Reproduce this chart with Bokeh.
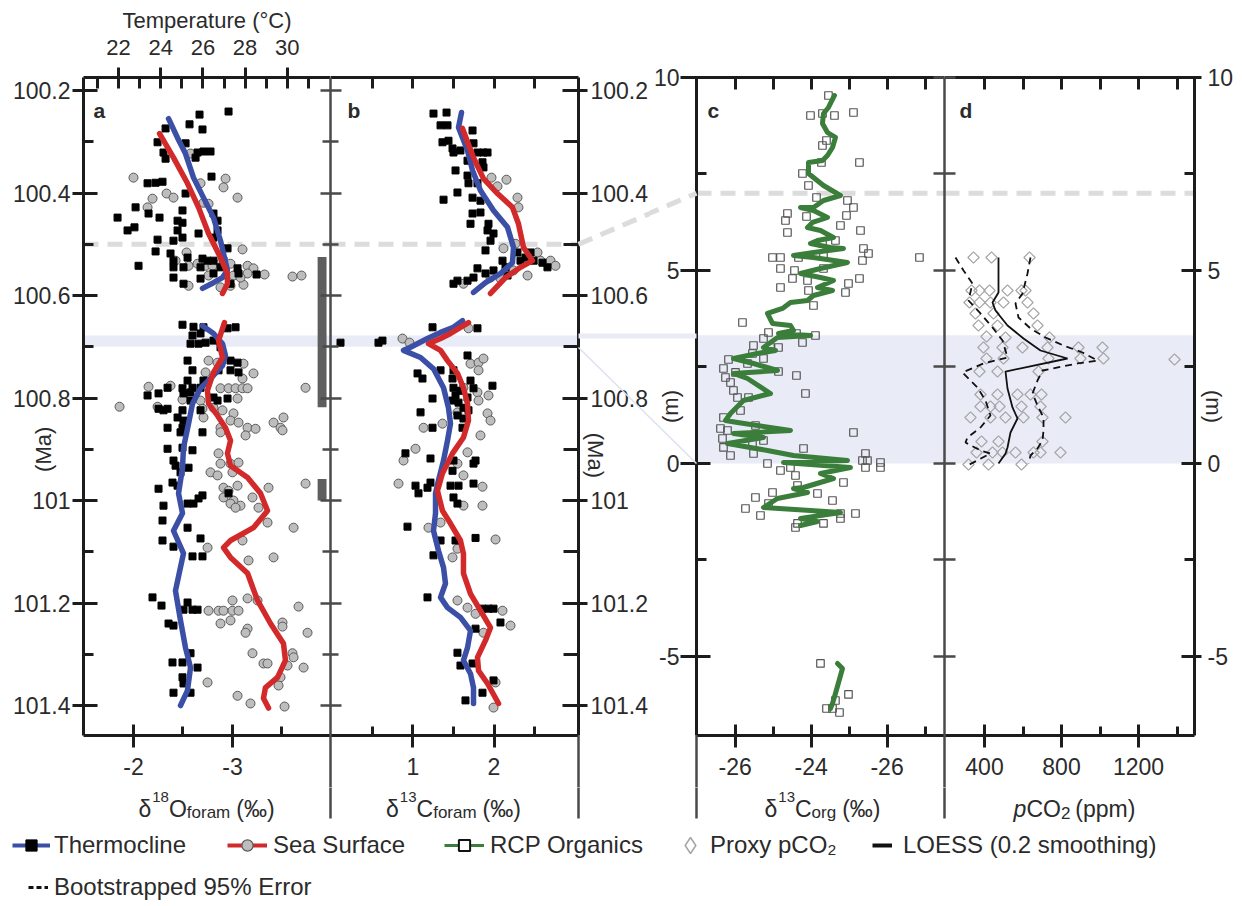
import math
from bokeh.plotting import figure
from bokeh.models import (Range1d, LinearAxis, FixedTicker, Span, BoxAnnotation, Label,
                          Legend, LegendItem)
from bokeh.layouts import row, column
from bokeh.embed import file_html
from bokeh.resources import INLINE

# ---------------------------------------------------------------- data
# panel a : delta18O (permil) vs age (Ma)
THERM_A = [(-2.667,100.247),(-2.960,100.241),(-2.566,100.266),(-2.697,100.276),(-2.324,100.274),(-2.243,100.301),
 (-2.526,100.303),(-2.647,100.321),(-2.707,100.319),(-2.778,100.319),(-2.303,100.321),(-2.324,100.333),(-2.627,100.331),
 (-2.788,100.368),(-2.142,100.381),(-2.223,100.380),(-2.293,100.378),(-2.526,100.401),(-2.495,100.434),(-2.445,100.454),
 (-2.495,100.458),(-2.021,100.428),(-2.152,100.440),(-2.263,100.448),(-1.839,100.448),(-1.940,100.473),(-2.010,100.467),
 (-2.445,100.473),(-2.495,100.487),(-2.404,100.493),(-2.243,100.491),(-2.657,100.479),(-2.808,100.440),(-2.849,100.454),
 (-2.849,100.473),(-2.808,100.487),(-2.950,100.508),(-2.223,100.514),(-2.374,100.518),(-2.404,100.532),(-2.051,100.542),
 (-2.404,100.545),(-2.505,100.545),(-2.546,100.526),(-2.697,100.528),(-2.748,100.532),(-2.808,100.532),(-2.909,100.532),
 (-3.051,100.547),(-2.677,100.545),(-2.677,100.567),(-2.404,100.565),(-2.505,100.577),(-2.980,100.577),(-3.243,100.559),
 (-3.061,100.557),(-2.808,100.557),(-2.879,100.545),
 (-2.495,100.657),(-2.606,100.661),(-2.707,100.662),(-2.950,100.664),(-3.031,100.662),(-2.596,100.678),(-2.677,100.674),
 (-2.576,100.694),(-2.657,100.694),(-2.728,100.692),(-2.808,100.688),(-2.879,100.701),(-2.546,100.727),(-2.980,100.727),
 (-3.051,100.731),(-2.596,100.746),(-2.859,100.746),(-2.980,100.746),(-3.061,100.750),(-2.546,100.766),(-2.707,100.766),
 (-2.344,100.780),(-2.495,100.781),(-2.596,100.780),(-2.677,100.780),(-2.253,100.791),(-2.142,100.795),(-2.505,100.791),
 (-2.576,100.789),(-2.808,100.799),(-2.950,100.801),(-2.849,100.805),(-2.576,100.805),(-2.253,100.821),(-2.303,100.824),
 (-2.344,100.821),(-2.495,100.824),(-2.445,100.838),(-2.677,100.824),(-2.505,100.844),(-2.495,100.858),(-2.344,100.858),
 (-2.475,100.867),(-2.697,100.867),(-2.344,100.899),(-2.495,100.897),(-2.596,100.902),(-2.404,100.922),(-2.425,100.932),
 (-2.475,100.945),(-2.556,100.936),(-2.394,100.965),(-2.445,100.971),(-2.253,100.977),(-2.606,101.006),(-2.657,100.996),
 (-2.697,100.990),(-2.960,100.986),(-2.303,101.010),(-2.546,101.006),(-2.293,101.039),(-2.546,101.053),(-2.293,101.078),
 (-2.677,101.074),(-2.404,101.090),(-2.596,101.109),(-2.697,101.109),(-2.192,101.189),(-2.283,101.205),(-2.546,101.199),
 (-2.505,101.213),(-2.596,101.213),(-2.647,101.213),(-2.354,101.240),(-2.404,101.244),(-2.576,101.298),(-2.394,101.316),
 (-2.495,101.316),(-2.647,101.326),(-2.495,101.345),(-2.505,101.357),(-2.404,101.375),(-2.576,101.375)]

SURF_A = [(-2.000,100.370),(-2.930,100.372),(-2.909,100.389),(-3.051,100.409),(-2.192,100.411),(-2.334,100.401),
 (-2.404,100.409),(-2.677,100.381),(-2.576,100.323),(-2.142,100.428),(-2.707,100.419),(-2.758,100.421),(-3.101,100.510),
 (-2.536,100.516),(-2.556,100.542),(-2.425,100.532),(-2.647,100.538),(-2.728,100.542),(-2.798,100.542),(-2.879,100.538),
 (-2.980,100.538),(-3.010,100.561),(-3.152,100.542),(-3.212,100.547),(-3.152,100.557),(-3.324,100.559),(-3.606,100.563),
 (-3.697,100.561),(-2.556,100.581),(-2.758,100.561),(-2.879,100.584),(-2.980,100.581),(-3.111,100.579),(-3.081,100.565),
 (-2.758,100.727),(-2.849,100.731),(-3.111,100.733),(-3.212,100.752),(-2.728,100.750),(-3.101,100.762),(-2.152,100.778),
 (-2.374,100.776),(-2.879,100.781),(-2.960,100.781),(-3.031,100.781),(-3.101,100.781),(-3.152,100.781),(-3.738,100.780),
 (-1.859,100.817),(-2.243,100.817),(-2.495,100.803),(-2.677,100.805),(-3.051,100.801),(-2.808,100.819),(-2.697,100.821),
 (-2.899,100.824),(-3.010,100.830),(-3.515,100.838),(-3.415,100.848),(-2.707,100.838),(-2.980,100.844),(-3.061,100.848),
 (-3.152,100.858),(-3.233,100.860),(-2.879,100.858),(-2.879,100.867),(-3.132,100.873),(-3.485,100.858),(-3.505,100.863),
 (-2.859,100.908),(-2.879,100.928),(-2.980,100.928),(-3.061,100.926),(-2.778,100.945),(-2.849,100.951),(-3.000,100.945),
 (-3.051,100.971),(-2.909,100.975),(-2.960,100.981),(-3.364,100.975),(-3.738,100.967),(-2.909,100.994),(-3.010,101.000),
 (-2.980,101.006),(-3.202,100.994),(-3.081,101.010),(-3.031,101.014),(-3.263,101.014),(-3.354,101.043),(-3.617,101.053),
 (-2.748,101.092),(-3.101,101.078),(-3.162,101.117),(-3.415,101.111),(-3.000,101.195),(-3.152,101.191),(-3.253,101.195),
 (-3.667,101.207),(-2.758,101.215),(-2.859,101.215),(-2.909,101.215),(-3.000,101.215),(-3.061,101.215),(-2.879,101.240),
 (-2.980,101.234),(-3.152,101.250),(-3.132,101.258),(-3.505,101.238),(-3.505,101.246),(-3.758,101.258),(-3.202,101.298),
 (-3.606,101.298),(-3.617,101.306),(-3.313,101.318),(-3.354,101.318),(-3.556,101.322),(-3.718,101.326),(-3.485,101.345),
 (-2.748,101.355),(-3.465,101.361),(-3.051,101.381),(-3.182,101.396),(-3.526,101.402)]

THERM_A_FIT_UP = [(-2.354,100.255),(-2.444,100.292),(-2.525,100.323),(-2.606,100.370),(-2.707,100.409),(-2.808,100.448),
 (-2.879,100.493),(-2.949,100.551),(-2.899,100.565),(-2.808,100.575),(-2.697,100.586)]
THERM_A_FIT_LO = [(-2.697,100.659),(-2.808,100.674),(-2.899,100.694),(-2.929,100.717),(-2.899,100.737),(-2.808,100.756),
 (-2.677,100.781),(-2.596,100.811),(-2.556,100.850),(-2.505,100.897),(-2.495,100.936),(-2.455,100.986),(-2.495,101.025),
 (-2.404,101.059),(-2.505,101.103),(-2.424,101.176),(-2.475,101.234),(-2.525,101.287),(-2.576,101.326),(-2.545,101.371),
 (-2.475,101.400)]
SURF_A_FIT_UP = [(-2.263,100.284),(-2.404,100.331),(-2.545,100.381),(-2.657,100.428),(-2.758,100.479),(-2.879,100.526),
 (-2.949,100.557),(-2.949,100.577),(-2.899,100.596)]
SURF_A_FIT_LO = [(-2.919,100.653),(-2.859,100.688),(-2.899,100.721),(-2.808,100.750),(-2.747,100.785),(-2.758,100.811),
 (-2.848,100.834),(-2.929,100.858),(-2.980,100.883),(-2.949,100.908),(-2.980,100.932),(-3.152,100.955),(-3.283,100.986),
 (-3.354,101.020),(-3.212,101.053),(-2.980,101.078),(-2.909,101.092),(-2.980,101.111),(-3.152,101.142),(-3.253,101.195),
 (-3.384,101.240),(-3.515,101.279),(-3.535,101.312),(-3.455,101.345),(-3.333,101.365),(-3.313,101.386),(-3.364,101.405)]

GAP_TOP = [100.525, 100.958]
GAP_BOTTOM = [100.818, 101.000]
GAP_LEFT = [-3.86, -3.86]
GAP_RIGHT = [-3.95, -3.95]

# panel b : delta13C foram (permil) vs age (Ma)
THERM_B = [(1.253,100.245),(1.414,100.243),(1.340,100.268),(1.426,100.268),(1.735,100.278),(1.364,100.301),(1.438,100.298),
 (1.488,100.313),(1.500,100.321),(1.586,100.317),(1.747,100.303),(1.796,100.321),(1.870,100.321),(1.920,100.321),
 (1.673,100.337),(1.858,100.340),(1.870,100.350),(1.525,100.356),(1.673,100.366),(1.685,100.381),(1.796,100.381),
 (1.377,100.413),(1.549,100.399),(1.735,100.409),(1.833,100.415),(1.735,100.440),(1.833,100.438),(1.710,100.460),
 (1.932,100.460),(1.920,100.473),(1.994,100.479),(1.957,100.493),(1.895,100.512),(2.105,100.532),(2.290,100.516),
 (2.327,100.532),(2.389,100.526),(2.451,100.516),(2.488,100.532),(2.599,100.536),(2.660,100.545),(1.796,100.547),
 (1.895,100.557),(1.994,100.551),(2.142,100.545),(1.747,100.565),(1.673,100.571),(1.549,100.571),(1.500,100.577),
 (2.167,100.561),
 (0.105,100.692),(0.574,100.692),(0.623,100.688),(1.241,100.662),(1.796,100.664),(1.673,100.717),(1.056,100.752),
 (1.117,100.762),(1.340,100.746),(1.500,100.746),(1.488,100.762),(1.710,100.766),(1.747,100.781),(1.981,100.776),
 (1.241,100.801),(1.525,100.795),(1.562,100.809),(1.673,100.799),(1.093,100.828),(1.241,100.858),(1.623,100.840),
 (1.611,100.858),(0.907,100.908),(1.216,100.918),(1.500,100.922),(1.747,100.928),(1.772,100.922),(1.488,100.942),
 (1.031,100.971),(1.179,100.975),(1.216,100.965),(1.068,100.986),(1.463,100.971),(1.562,100.971),(1.747,100.967),
 (1.500,100.994),(1.549,101.006),(0.932,101.051),(1.340,101.078),(1.525,101.078),(1.772,101.073),(1.253,101.107),
 (1.179,101.189),(1.858,101.211),(1.932,101.211),(1.994,101.211),(1.772,101.250),(2.080,101.238),(1.549,101.297),
 (1.586,101.322),(1.735,101.318),(1.994,101.351),(1.858,101.375),(1.648,101.390),(1.500,100.780),(1.586,100.786),
 (1.623,100.819),(1.685,100.824),(1.549,100.834),(1.488,100.805)]

SURF_B = [(1.969,100.370),(2.154,100.374),(2.043,100.387),(2.290,100.409),(2.302,100.428),(2.117,100.508),(2.265,100.499),
 (2.537,100.516),(2.574,100.532),(2.698,100.532),(2.759,100.542),(2.414,100.561),(2.080,100.567),(1.957,100.565),
 (1.623,100.577),(2.241,100.551),
 (0.870,100.684),(0.957,100.692),(1.685,100.664),(1.710,100.733),(1.809,100.731),(1.870,100.723),(1.809,100.746),
 (1.623,100.780),(1.796,100.789),(1.932,100.795),(1.809,100.805),(1.549,100.828),(1.920,100.830),(1.957,100.844),
 (1.833,100.873),(1.130,100.858),(1.364,100.850),(1.031,100.899),(0.883,100.922),(1.673,100.906),(1.549,100.928),
 (1.623,100.951),(0.821,100.967),(1.858,100.973),(1.623,101.010),(1.858,101.010),(1.191,101.053),(1.340,101.043),
 (2.019,101.076),(1.549,101.094),(1.488,101.111),(1.549,101.195),(1.673,101.209),(1.772,101.221),(2.105,101.215),
 (2.204,101.244),(1.870,101.258),(2.019,101.355),(1.994,101.404)]

THERM_B_FIT_UP = [(1.599,100.243),(1.562,100.272),(1.673,100.317),(1.735,100.356),(1.833,100.395),(1.994,100.434),
 (2.167,100.467),(2.241,100.506),(2.228,100.536),(2.080,100.557),(1.895,100.575),(1.747,100.594)]
THERM_B_FIT_LO = [(1.611,100.649),(1.500,100.662),(1.340,100.672),(1.179,100.684),(0.969,100.701),(0.883,100.707),
 (1.093,100.721),(1.253,100.743),(1.377,100.780),(1.438,100.819),(1.463,100.850),(1.426,100.883),(1.377,100.922),
 (1.315,100.961),(1.278,100.986),(1.278,101.025),(1.253,101.059),(1.315,101.098),(1.377,101.131),(1.401,101.162),
 (1.340,101.189),(1.426,101.209),(1.586,101.228),(1.710,101.254),(1.673,101.287),(1.623,101.312),(1.710,101.338),
 (1.747,101.365),(1.747,101.396)]
SURF_B_FIT_UP = [(1.611,100.274),(1.747,100.331),(1.870,100.372),(2.043,100.401),(2.228,100.428),(2.302,100.460),
 (2.364,100.506),(2.475,100.532),(2.327,100.545),(2.142,100.565),(1.957,100.596)]
SURF_B_FIT_LO = [(1.685,100.653),(1.586,100.662),(1.463,100.674),(1.340,100.684),(1.191,100.694),(1.340,100.707),
 (1.426,100.727),(1.549,100.752),(1.623,100.780),(1.673,100.811),(1.685,100.844),(1.623,100.877),(1.488,100.908),
 (1.364,100.947),(1.302,100.981),(1.364,101.020),(1.463,101.045),(1.586,101.078),(1.623,101.104),(1.623,101.142),
 (1.710,101.182),(1.833,101.215),(1.957,101.248),(1.895,101.273),(1.796,101.306),(1.809,101.332),(1.920,101.357),
 (2.056,101.396)]

# panel c : delta13C org (permil) vs height (m)
ORG_C = [(-23.543,9.534),(-24.016,9.016),(-23.701,9.067),(-23.385,9.016),(-22.885,9.093),(-23.701,8.238),(-23.595,8.368),
 (-22.727,7.798),(-23.727,7.798),(-24.227,7.513),(-24.069,7.202),(-23.858,6.891),(-23.043,6.813),(-22.885,6.632),
 (-23.069,6.425),(-24.622,6.477),(-24.674,6.295),(-24.121,6.399),(-23.227,6.166),(-22.700,6.036),(-24.622,5.984),
 (-23.359,5.777),(-23.701,5.699),(-25.016,5.337),(-24.806,5.337),(-24.332,5.337),(-23.674,5.389),(-22.622,5.570),
 (-22.490,5.440),(-22.648,5.259),(-21.148,5.337),(-24.806,5.052),(-24.437,5.000),(-23.674,5.052),(-24.490,4.793),
 (-24.095,4.741),(-22.727,4.793),(-23.016,4.663),(-24.806,4.560),(-24.069,4.482),(-23.095,4.430),(-23.937,4.093),
 (-25.806,3.653),(-25.121,3.394),(-25.253,3.238),(-24.385,3.368),(-24.227,3.135),(-23.885,3.316),(-25.516,3.057),
 (-25.069,3.005),(-24.858,3.005),(-25.543,2.850),(-25.253,2.720),(-26.174,2.694),(-26.306,2.461),(-25.990,2.358),
 (-25.674,2.591),(-24.858,2.383),(-26.253,2.228),(-26.121,2.098),(-24.385,2.280),(-26.043,1.891),(-25.937,1.710),
 (-25.648,1.710),(-24.148,1.813),(-25.858,1.373),(-26.306,1.192),(-26.385,0.907),(-26.200,0.855),(-26.332,0.648),
 (-26.306,0.415),(-25.464,0.984),(-25.253,0.596),(-25.543,0.518),(-26.121,0.207),(-25.516,0.259),(-24.200,0.389),
 (-22.885,0.803),(-22.569,0.259),(-22.648,0.078),(-22.517,0.078),(-22.569,-0.104),(-22.174,0.026),(-22.174,-0.104),
 (-25.148,0.000),(-24.806,-0.181),(-24.543,-0.104),(-24.411,-0.311),(-23.148,-0.492),(-24.358,-0.570),(-23.832,-0.777),
 (-25.016,-0.751),(-25.464,-0.881),(-25.727,-1.166),(-25.332,-1.347),(-25.121,-1.036),(-23.437,-0.959),(-23.227,-1.295),
 (-22.832,-1.295),(-24.358,-1.554),(-24.411,-1.658),(-23.674,-1.554),(-23.227,-1.425),
 (-23.753,-5.181),(-23.016,-5.984),(-23.595,-6.347),(-23.437,-6.347),(-23.253,-6.451),(-23.359,-6.140)]

ORG_C_FIT_UP = [(-23.385,9.534),(-23.543,9.223),(-23.674,9.067),(-23.701,8.808),(-23.569,8.575),(-23.359,8.446),
 (-23.437,8.187),(-23.569,7.979),(-23.701,7.850),(-24.069,7.798),(-24.069,7.513),(-23.674,7.202),(-23.227,6.943),
 (-23.674,6.813),(-23.937,6.632),(-24.279,6.632),(-23.937,6.554),(-23.569,6.373),(-23.963,6.244),(-24.095,6.114),
 (-23.753,6.036),(-23.411,5.855),(-23.832,5.777),(-24.016,5.699),(-23.490,5.596),(-23.148,5.570),(-23.937,5.466),
 (-24.463,5.389),(-23.937,5.337),(-23.043,5.207),(-23.753,5.052),(-24.279,4.922),(-23.753,4.819),(-23.411,4.741),
 (-23.832,4.560),(-23.437,4.482),(-23.937,4.352),(-24.095,4.223),(-24.543,4.171),(-24.753,4.016),(-25.148,3.886),
 (-25.016,3.627),(-24.543,3.575),(-24.463,3.446),(-24.858,3.368),(-24.016,3.316),(-24.885,3.264),(-25.253,3.005),
 (-24.937,2.927),(-25.411,2.850),(-26.043,2.720),(-25.516,2.591),(-24.885,2.409),(-26.043,2.332),(-25.674,2.202),
 (-25.069,1.813),(-25.779,1.632),(-26.121,1.295),(-26.253,1.114),(-25.937,1.062),(-24.543,0.855),(-26.043,0.777),
 (-25.253,0.674),(-26.200,0.518),(-25.148,0.337),(-24.463,0.207),(-23.043,0.078),(-24.727,0.026),(-22.964,-0.104),
 (-23.753,-0.259),(-23.411,-0.389),(-24.200,-0.622),(-24.463,-0.648),(-24.095,-0.751),(-24.885,-0.907),(-25.253,-1.140),
 (-24.016,-1.218),(-23.227,-1.269),(-24.279,-1.425),(-23.832,-1.503),(-24.279,-1.606)]
ORG_C_FIT_LO = [(-23.306,-5.181),(-23.174,-5.311),(-23.359,-5.959),(-23.437,-6.218),(-23.490,-6.347)]

# panel d : pCO2 (ppm) vs height (m)
PCO2_D = [(342.9,5.337),(436.4,5.337),(633.8,5.337),(332.5,4.482),(374.0,4.482),(426.0,4.482),(519.5,4.482),(592.2,4.482),
 (613.0,4.482),(322.1,4.171),(374.0,4.171),(431.2,4.171),(498.7,4.171),(623.4,4.171),(353.2,3.886),(446.8,3.886),
 (654.6,3.886),(368.8,3.575),(467.5,3.575),(675.3,3.575),(410.4,3.290),(509.1,3.264),(737.7,3.264),(394.8,3.005),
 (493.5,3.005),(597.4,3.005),(727.3,3.005),(888.3,3.005),(1013.0,3.005),(410.4,2.720),(498.7,2.720),(732.5,2.720),
 (898.7,2.720),(1018.2,2.720),(1387.1,2.694),(374.0,2.383),(467.5,2.383),(680.5,2.383),(379.2,1.788),(467.5,1.788),
 (571.4,1.788),(639.0,1.788),(696.1,1.788),(379.2,1.477),(431.2,1.477),(477.9,1.477),(592.2,1.477),(690.9,1.477),
 (327.3,1.192),(431.2,1.192),(509.1,1.192),(602.6,1.192),(701.3,1.192),(820.8,1.192),(384.4,0.570),(472.7,0.570),
 (701.3,0.570),(358.4,0.285),(441.6,0.285),(493.5,0.285),(561.0,0.285),(654.6,0.285),(690.9,0.285),(794.8,0.285),
 (316.9,-0.026),(420.8,-0.026),(592.2,-0.026)]
LOESS_D = [(472.7,5.337),(472.7,4.430),(441.6,4.171),(457.1,3.964),(519.5,3.575),(602.6,3.238),(690.9,2.927),(831.2,2.720),
 (509.1,2.383),(519.5,1.943),(545.5,1.451),(571.4,1.166),(535.1,0.803),(519.5,0.415),(509.1,0.259),(472.7,0.000)]
ERR_LO_D = [(249.3,5.337),(290.9,5.000),(337.7,4.663),(316.9,4.223),(379.2,3.886),(441.6,3.523),(493.5,3.187),
 (519.5,2.746),(394.8,2.591),(285.7,2.358),(363.6,1.969),(405.2,1.632),(431.2,1.244),(379.2,0.933),(311.7,0.674),
 (301.3,0.544),(379.2,0.337),(431.2,0.259),(311.7,-0.052)]
ERR_HI_D = [(639.0,5.337),(623.4,4.922),(597.4,4.404),(561.0,4.145),(576.6,3.782),(639.0,3.497),(716.9,3.264),
 (810.4,3.057),(909.1,2.876),(987.0,2.668),(883.1,2.591),(701.3,2.409),(675.3,2.150),(649.4,1.813),(675.3,1.503),
 (706.5,1.192),(706.5,0.855),(701.3,0.596),(675.3,0.389),(639.0,0.207),(628.6,0.000)]

# ticks / labels
MA_TICKS = [100.2, 100.4, 100.6, 100.8, 101.0, 101.2, 101.4]
MA_LABELS = ["100.2", "100.4", "100.6", "100.8", "101", "101.2", "101.4"]
MA_MINOR = [100.3, 100.5, 100.7, 100.9, 101.1, 101.3]
TEMP_TICKS = [22, 24, 26, 28, 30]
TEMP_MINOR = [21, 23, 25, 27, 29, 31]
D18O_TICKS = [-2, -3]
D18O_LABELS = ["-2", "-3"]
D18O_MINOR = [-2.5, -3.5]
D13C_TICKS = [1, 2]
D13C_LABELS = ["1", "2"]
D13C_MINOR = [0.5, 1.5, 2.5]
CORG_TICKS = [-26, -24, -22]
CORG_LABELS = ["-26", "-24", "-26"]
CORG_MINOR = [-25, -23, -21]
PCO2_TICKS = [400, 800, 1200]
PCO2_LABELS = ["400", "800", "1200"]
PCO2_MINOR = [600, 1000, 1400]
M_TICKS = [-5, 0, 5, 10]
M_LABELS = ["-5", "0", "5", "10"]
M_MINOR = [-2.5, 2.5, 7.5]
M_ALL = [-5, -2.5, 0, 2.5, 5, 7.5, 10]

EVENT_AGE = 100.5
EVENT_M = 7.0
BAND_AGE = (100.678, 100.700)
BAND_M = (0.0, 3.32)

# ---------------------------------------------------------------- style / geometry
FONT = "Liberation Sans"
TXT = "#2b2b2b"
AX = "#1c1c1c"
DIV = "#4a4a4a"
BLUE = "#3b4fa6"
RED = "#d22a2a"
GREEN = "#3b7d3b"
BAND = "#e9ecf6"
BAND_LINE = "#dde1f0"
DASHC = "#dcdcdc"

TOP, BOT, FH = 77, 52, 658
H = TOP + FH + BOT          # 787
FOOT_H = 115
NB = "\u00a0"

# ranges of the four panels
A_X = (-1.495, -3.990)
TEMP_X = (20.341, 32.047)
B_X = (-0.0185, 3.0432)
C_X = (-27.016, -20.489)
D_X = (192.2, 1490.9)
AGE_Y = (101.4585, 100.1746)
M_Y = (-7.047, 10.0)

# decorative links drawn between panel b and panel c (in each panel's own units)
LINK_B_X = (3.0432, 4.50)
LINK_B_DASH_Y = (100.5, 100.4009)
LINK_B_STRIP_Y = (100.674, 100.684)
LINK_B_DIAG_Y = (100.7014, 100.9278)
LINK_C_X = (-30.121, -27.016)
LINK_C_DASH_Y = (5.699, 7.0)
LINK_C_STRIP_Y = (3.368, 3.238)
LINK_C_DIAG_Y = (3.005, 0.0)
# panel divider positions in the footer strip (its x range is in page pixels)
FOOT_DIVIDERS = [330, 578, 696, 944]


def xs(pts):
    return [p[0] for p in pts]


def ys(pts):
    return [p[1] for p in pts]


def make_fig(width, xr, yr, left, right):
    p = figure(width=width, height=H, x_range=Range1d(*xr), y_range=Range1d(*yr), output_backend="svg",
               toolbar_location=None, x_axis_location=None, y_axis_location=None,
               min_border_top=TOP, min_border_bottom=BOT, min_border_left=left, min_border_right=right)
    p.outline_line_color = None
    p.grid.visible = False
    p.background_fill_color = "white"
    p.border_fill_color = "white"
    return p


def axis(p, side, ticks, minor=(), labels=None, tin=0, tout=0, mtin=0, mtout=0,
         color=AX, lw=3, show=True, standoff=3, fsize="23px", range_name=None):
    kw = {}
    if range_name is not None:
        kw["x_range_name"] = range_name
    ax = LinearAxis(ticker=FixedTicker(ticks=list(ticks), minor_ticks=list(minor)), **kw)
    ax.axis_line_color = color
    ax.axis_line_width = lw
    ax.major_tick_line_color = color
    ax.major_tick_line_width = lw
    ax.minor_tick_line_color = color
    ax.minor_tick_line_width = lw
    ax.major_tick_in = tin
    ax.major_tick_out = tout
    ax.minor_tick_in = mtin
    ax.minor_tick_out = mtout
    if show:
        ax.major_label_text_font = FONT
        ax.major_label_text_font_size = fsize
        ax.major_label_text_color = TXT
        ax.major_label_standoff = standoff
        if labels is not None:
            ax.major_label_overrides = dict(zip(ticks, labels))
    else:
        ax.major_label_text_font_size = "0px"
        ax.major_label_text_color = None
        ax.major_label_standoff = 0
    p.add_layout(ax, side)
    return ax


def axis_title(ax, text, standoff):
    ax.axis_label = text
    ax.axis_label_text_font = FONT
    ax.axis_label_text_font_size = "22px"
    ax.axis_label_text_font_style = "normal"
    ax.axis_label_text_color = TXT
    ax.axis_label_standoff = standoff


def letter(p, x, text):
    p.add_layout(Label(x=x, y=FH - 33, x_units="screen", y_units="screen", text=text,
                       text_font=FONT, text_font_size="21px", text_font_style="bold", text_color=TXT,
                       text_baseline="alphabetic"))


def deco_line(p, x, y, color, width, dash="solid"):
    p.line(x=list(x), y=list(y), line_color=color, line_width=width, line_dash=dash, level="overlay")


def band_and_event(p, band, event):
    p.add_layout(BoxAnnotation(bottom=min(band), top=max(band), fill_color=BAND, fill_alpha=1,
                               line_color=None, level="underlay"))
    p.add_layout(Span(location=event, dimension="width", line_color=DASHC, line_width=5, line_dash="15 9",
                      level="underlay"))


# ---------------------------------------------------------------- panel a
pa = make_fig(330, A_X, AGE_Y, 83, 0)
pa.extra_x_ranges = {"temp": Range1d(*TEMP_X)}
ax_l = axis(pa, "left", MA_TICKS, MA_MINOR, MA_LABELS, tin=14, tout=11, mtin=10, standoff=2)
axis_title(ax_l, "(Ma)" + NB * 14, -46)
axis(pa, "right", MA_TICKS, MA_MINOR, tin=10, mtin=8, color=DIV, lw=2.5, show=False)
tax = axis(pa, "above", TEMP_TICKS, TEMP_MINOR, [str(t) for t in TEMP_TICKS], tin=11, tout=10, mtin=11,
           standoff=13, fsize="22px", range_name="temp")
axis_title(tax, "Temperature (°C)", 4)
axis(pa, "below", D18O_TICKS, D18O_MINOR, D18O_LABELS, tin=11, tout=12, mtin=9, standoff=10)
band_and_event(pa, BAND_AGE, EVENT_AGE)
pa.quad(left=GAP_LEFT, right=GAP_RIGHT, top=GAP_TOP, bottom=GAP_BOTTOM, fill_color="#5e5e5e", line_color=None)
pa.scatter(xs(SURF_A), ys(SURF_A), marker="circle", size=9, fill_color="#bdbdbd", line_color="#5a5a5a", line_width=1)
pa.scatter(xs(THERM_A), ys(THERM_A), marker="square", size=7, fill_color="black", line_color="black")
for fit in (THERM_A_FIT_UP, THERM_A_FIT_LO):
    pa.line(xs(fit), ys(fit), line_color=BLUE, line_width=5.5, line_join="round", line_cap="round")
for fit in (SURF_A_FIT_UP, SURF_A_FIT_LO):
    pa.line(xs(fit), ys(fit), line_color=RED, line_width=5.5, line_join="round", line_cap="round")
letter(pa, 10, "a")
deco_line(pa, (A_X[1], A_X[1]), (AGE_Y[0], AGE_Y[0] + 0.2), DIV, 2.5)

# ---------------------------------------------------------------- panel b
pb = make_fig(320, B_X, AGE_Y, 0, 72)
axis(pb, "left", MA_TICKS, MA_MINOR, tin=11, mtin=8, color=DIV, lw=2.5, show=False)
ax_r = axis(pb, "right", MA_TICKS, MA_MINOR, MA_LABELS, tin=16, tout=9, mtin=15, standoff=3)
axis_title(ax_r, NB * 16 + "(Ma)", -68)
axis(pb, "above", [0.5, 1, 1.5, 2, 2.5], tin=11, show=False)
axis(pb, "below", D13C_TICKS, D13C_MINOR, D13C_LABELS, tin=11, tout=12, mtin=9, standoff=10)
band_and_event(pb, BAND_AGE, EVENT_AGE)
pb.scatter(xs(SURF_B), ys(SURF_B), marker="circle", size=9, fill_color="#bdbdbd", line_color="#5a5a5a", line_width=1)
pb.scatter(xs(THERM_B), ys(THERM_B), marker="square", size=7, fill_color="black", line_color="black")
for fit in (THERM_B_FIT_UP, THERM_B_FIT_LO):
    pb.line(xs(fit), ys(fit), line_color=BLUE, line_width=5.5, line_join="round", line_cap="round")
for fit in (SURF_B_FIT_UP, SURF_B_FIT_LO):
    pb.line(xs(fit), ys(fit), line_color=RED, line_width=5.5, line_join="round", line_cap="round")
letter(pb, 17, "b")
deco_line(pb, (B_X[0], B_X[0]), (AGE_Y[0], AGE_Y[0] + 0.2), DIV, 2.5)
deco_line(pb, (B_X[1], B_X[1]), (AGE_Y[0], AGE_Y[0] + 0.2), DIV, 2.5)
pb.patch(x=[LINK_B_X[0], LINK_B_X[1], LINK_B_X[1], LINK_B_X[0]],
         y=[LINK_B_STRIP_Y[0], LINK_B_STRIP_Y[0], LINK_B_STRIP_Y[1], LINK_B_STRIP_Y[1]],
         fill_color=BAND, line_color=None, level="overlay")
deco_line(pb, LINK_B_X, LINK_B_DIAG_Y, BAND_LINE, 1.5)
deco_line(pb, LINK_B_X, LINK_B_DASH_Y, DASHC, 5, "15 9")

# ---------------------------------------------------------------- panel c
pc = make_fig(294, C_X, M_Y, 46, 0)
ax_c = axis(pc, "left", M_TICKS, M_MINOR, M_LABELS, tin=14, tout=16, mtin=10, standoff=1)
axis_title(ax_c, "(m)", -32)
axis(pc, "right", M_ALL, tin=11, color=DIV, lw=2.5, show=False)
axis(pc, "above", [-26, -25, -24, -23, -22, -21], tin=12, show=False)
axis(pc, "below", CORG_TICKS, CORG_MINOR, CORG_LABELS, tin=11, tout=12, mtin=9, standoff=10)
band_and_event(pc, BAND_M, EVENT_M)
pc.scatter(xs(ORG_C), ys(ORG_C), marker="square", size=7.5, fill_color=None, line_color="#555555", line_width=1.2)
for fit in (ORG_C_FIT_UP, ORG_C_FIT_LO):
    pc.line(xs(fit), ys(fit), line_color=GREEN, line_width=5, line_join="round", line_cap="round")
letter(pc, 11, "c")
deco_line(pc, (C_X[0], C_X[0]), (M_Y[0], M_Y[0] - 3), DIV, 2.5)
deco_line(pc, (C_X[1], C_X[1]), (M_Y[0], M_Y[0] - 3), DIV, 2.5)
pc.patch(x=[LINK_C_X[0], LINK_C_X[1], LINK_C_X[1], LINK_C_X[0]],
         y=[LINK_C_STRIP_Y[0], LINK_C_STRIP_Y[0], LINK_C_STRIP_Y[1], LINK_C_STRIP_Y[1]],
         fill_color=BAND, line_color=None, level="overlay")
deco_line(pc, LINK_C_X, LINK_C_DIAG_Y, BAND_LINE, 1.5)
deco_line(pc, LINK_C_X, LINK_C_DASH_Y, DASHC, 5, "15 9")

# ---------------------------------------------------------------- panel d
pd_ = make_fig(290, D_X, M_Y, 0, 40)
axis(pd_, "left", M_ALL, tin=11, color=DIV, lw=2.5, show=False)
ax_d = axis(pd_, "right", M_TICKS, M_MINOR, M_LABELS, tin=13, tout=7, mtin=10, standoff=6)
axis_title(ax_d, "(m)", -35)
axis(pd_, "above", [400, 600, 800, 1000, 1200, 1400], tin=12, show=False)
axis(pd_, "below", PCO2_TICKS, PCO2_MINOR, PCO2_LABELS, tin=11, tout=12, mtin=9, standoff=10)
band_and_event(pd_, BAND_M, EVENT_M)
pd_.scatter(xs(PCO2_D), ys(PCO2_D), marker="square", angle=math.pi / 4, size=8, fill_color=None,
            line_color="#a5a5a5", line_width=1.2)
pd_.line(xs(ERR_LO_D), ys(ERR_LO_D), line_color="#111111", line_width=1.8, line_dash="7 5")
pd_.line(xs(ERR_HI_D), ys(ERR_HI_D), line_color="#111111", line_width=1.8, line_dash="7 5")
pd_.line(xs(LOESS_D), ys(LOESS_D), line_color="#111111", line_width=1.8)
letter(pd_, 15, "d")
deco_line(pd_, (D_X[0], D_X[0]), (M_Y[0], M_Y[0] - 3), DIV, 2.5)

# ---------------------------------------------------------------- footer: axis titles + legend
pf = figure(width=1234, height=FOOT_H, x_range=Range1d(0, 1234), y_range=Range1d(0, FOOT_H),
            output_backend="svg", toolbar_location=None, x_axis_location=None, y_axis_location=None, min_border=0)
pf.outline_line_color = None
pf.grid.visible = False

for xdiv in FOOT_DIVIDERS:
    deco_line(pf, (xdiv, xdiv), (FOOT_H, FOOT_H - 31), DIV, 2.5)

CW = {"δ": 0.556, "1": 0.556, "2": 0.556, "3": 0.556, "8": 0.556, "O": 0.778, "C": 0.722, "f": 0.278,
      "o": 0.556, "r": 0.333, "a": 0.556, "m": 0.833, "g": 0.556, "(": 0.333, ")": 0.333, "‰": 1.0, "p": 0.556}


def compound_label(p, cx, base, parts):
    widths = [sum(CW.get(c, 0.556) for c in t) * s for (t, s, dy, st, gap) in parts]
    total = sum(widths) + sum(pt[4] for pt in parts)
    x = cx - total / 2
    for (t, s, dy, st, gap), w in zip(parts, widths):
        x += gap
        p.add_layout(Label(x=x, y=base + dy, x_units="screen", y_units="screen", text=t,
                           text_font=FONT, text_font_size=f"{s}px", text_color=TXT, text_font_style=st,
                           text_align="left", text_baseline="alphabetic"))
        x += w


BASE = FOOT_H - 21
compound_label(pf, 206, BASE, [("δ", 23, 0, "normal", 0), ("18", 15, 12, "normal", 1), ("O", 23, 0, "normal", 0),
                               ("foram", 17, -4, "normal", 0), ("(‰)", 23, 0, "normal", 6)])
compound_label(pf, 453, BASE, [("δ", 23, 0, "normal", 0), ("13", 15, 12, "normal", 1), ("C", 23, 0, "normal", 0),
                               ("foram", 17, -4, "normal", 0), ("(‰)", 23, 0, "normal", 6)])
compound_label(pf, 822, BASE, [("δ", 23, 0, "normal", 0), ("13", 15, 12, "normal", 1), ("C", 23, 0, "normal", 0),
                               ("org", 17, -4, "normal", 0), ("(‰)", 23, 0, "normal", 6)])
compound_label(pf, 1074, BASE, [("p", 23, 0, "italic", 0), ("CO", 23, 0, "normal", 0), ("2", 17, -4, "normal", 0),
                                ("(ppm)", 23, 0, "normal", 5)])

OFF = ([-100, -90], [-100, -100])
r_bl = pf.line(*OFF, line_color=BLUE, line_width=4)
r_sq = pf.scatter(*OFF, marker="square", size=11, fill_color="black", line_color="black")
r_rd = pf.line(*OFF, line_color=RED, line_width=4)
r_ci = pf.scatter(*OFF, marker="circle", size=15, fill_color="#bdbdbd", line_color="#5a5a5a", line_width=1.2)
r_gr = pf.line(*OFF, line_color=GREEN, line_width=3)
r_os = pf.scatter(*OFF, marker="square", size=13, fill_color="white", line_color="#111111", line_width=2)
r_di = pf.scatter(*OFF, marker="diamond", size=18, fill_color="white", line_color="#a5a5a5", line_width=1.5)
r_lo = pf.line(*OFF, line_color="#111111", line_width=4)
r_er = pf.line(*OFF, line_color="#111111", line_width=3, line_dash="5 3")

LEG_ITEMS = [("Thermocline", [r_bl, r_sq], 12, 43, 38, 28, 4),
             ("Sea Surface", [r_rd, r_ci], 227, 43, 40, 28, 6),
             ("RCP Organics", [r_gr, r_os], 444, 43, 40, 28, 6),
             ("Proxy pCO₂", [r_di], 670, 37, 40, 40, 0),
             ("LOESS (0.2 smoothing)", [r_lo], 872, 43, 20, 28, 11),
             ("Bootstrapped 95% Error", [r_er], 28, 1, 20, 28, 6)]
for lab, rends, lx, ly, gw, gh, so in LEG_ITEMS:
    leg = Legend(items=[LegendItem(label=lab, renderers=rends)], location=(lx, ly), orientation="horizontal",
                 glyph_width=gw, glyph_height=gh, label_height=gh, label_standoff=so, padding=0, margin=0,
                 spacing=0, border_line_color=None, background_fill_alpha=0,
                 label_text_font=FONT, label_text_font_size="24px", label_text_color=TXT)
    pf.add_layout(leg)

layout = column(row(pa, pb, pc, pd_, spacing=0), pf, spacing=0)
open("out.html", "w").write(file_html(layout, INLINE, title="chart"))
